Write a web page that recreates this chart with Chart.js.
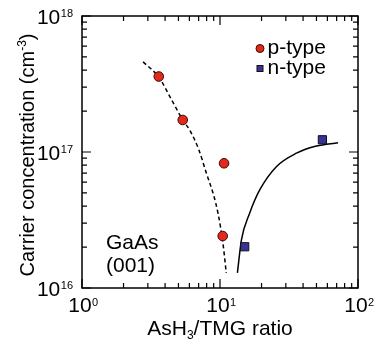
<!DOCTYPE html>
<html>
<head>
<meta charset="utf-8">
<script src="https://cdn.jsdelivr.net/npm/chart.js@4.4.1/dist/chart.umd.min.js"></script>
<style>
    html, body { margin: 0; padding: 0; background: #fff; }
    #chart { display: block; }
</style>
</head>
<body>
<canvas id="chart" width="378" height="343"></canvas>
<script>
// Measured points
const pTypeRatio = [3.6, 5.37, 10.7, 10.46];
const pTypeConc = [3.59e17, 1.72e17, 8.26e16, 2.41e16];
const nTypeRatio = [15.1, 55.2];
const nTypeConc = [2.01e16, 1.23e17];

// Guide curves
const pFitRatio = [2.77, 3.6, 4.5, 5.37, 6.03, 7.0, 7.97, 9.0, 9.67, 10.5, 11.1];
const pFitConc = [4.6e17, 3.55e17, 2.38e17, 1.72e17, 1.45e17, 1.05e17, 6.98e16, 4.8e16, 3.55e16, 2.14e16, 1.29e16];
const nFitRatio = [13.37, 14.3, 16.4, 19.4, 25.6, 35.8, 50, 71.6];
const nFitConc = [1.29e16, 2.26e16, 3.55e16, 5.26e16, 7.8e16, 9.8e16, 1.107e17, 1.17e17];

// Axis ticks
const xMajorTicks = [1, 10, 100];
const xTickExponents = ['0', '1', '2'];
const yMajorTicks = [1e16, 1e17, 1e18];
const yTickExponents = ['16', '17', '18'];
const minorSteps = [2, 3, 4, 5, 6, 7, 8, 9];

const FONT = '"Liberation Sans", Arial, Helvetica, sans-serif';
const RED = '#e2291c';
const BLUE = '#3a3199';

function toPoints(xs, ys) {
    return xs.map((x, i) => ({ x: x, y: ys[i] }));
}

// Frame, inward ticks on all four sides, labels and annotations
const framePlugin = {
    id: 'frame',
    afterDraw(chart) {
        const ctx = chart.ctx;
        const area = chart.chartArea;
        const xs = chart.scales.x;
        const ys = chart.scales.y;

        ctx.save();
        ctx.strokeStyle = '#000';
        ctx.lineWidth = 1.5;
        ctx.strokeRect(area.left, area.top, area.right - area.left, area.bottom - area.top);

        // ticks
        ctx.lineWidth = 1.2;
        ctx.beginPath();
        function xTick(v, len) {
            const px = xs.getPixelForValue(v);
            ctx.moveTo(px, area.bottom); ctx.lineTo(px, area.bottom - len);
            ctx.moveTo(px, area.top); ctx.lineTo(px, area.top + len);
        }
        function yTick(v, len) {
            const py = ys.getPixelForValue(v);
            ctx.moveTo(area.left, py); ctx.lineTo(area.left + len, py);
            ctx.moveTo(area.right, py); ctx.lineTo(area.right - len, py);
        }
        xMajorTicks.forEach((v, i) => {
            xTick(v, 9);
            if (i < xMajorTicks.length - 1) minorSteps.forEach(k => xTick(v * k, 5));
        });
        yMajorTicks.forEach((v, i) => {
            yTick(v, 9);
            if (i < yMajorTicks.length - 1) minorSteps.forEach(k => yTick(v * k, 5));
        });
        ctx.stroke();

        ctx.fillStyle = '#000';
        ctx.textBaseline = 'alphabetic';
        ctx.textAlign = 'left';

        // x tick labels 10^n
        xMajorTicks.forEach((v, i) => {
            const px = xs.getPixelForValue(v);
            ctx.font = '21px ' + FONT;
            const wBase = ctx.measureText('10').width;
            ctx.font = '11px ' + FONT;
            const wExp = ctx.measureText(xTickExponents[i]).width;
            const x0 = px - (wBase + wExp) / 2 + 1;
            ctx.font = '21px ' + FONT;
            ctx.fillText('10', x0, area.bottom + 23.5);
            ctx.font = '11px ' + FONT;
            ctx.fillText(xTickExponents[i], x0 + wBase + 0.5, area.bottom + 18);
        });

        // y tick labels 10^n
        yMajorTicks.forEach((v, i) => {
            const py = ys.getPixelForValue(v);
            ctx.font = '11px ' + FONT;
            const wExp = ctx.measureText(yTickExponents[i]).width;
            ctx.font = '21px ' + FONT;
            const wBase = ctx.measureText('10').width;
            const right = area.left - 9;
            ctx.fillText('10', right - wExp - wBase - 0.5, py + 8);
            ctx.font = '11px ' + FONT;
            ctx.fillText(yTickExponents[i], right - wExp, py + 0.5);
        });

        // x axis title: AsH3/TMG ratio
        ctx.font = '21px ' + FONT;
        const t1 = 'AsH', t3 = '/TMG ratio';
        const w1 = ctx.measureText(t1).width;
        const w3 = ctx.measureText(t3).width;
        ctx.font = '12px ' + FONT;
        const w2 = ctx.measureText('3').width;
        const cx = (area.left + area.right) / 2;
        let tx = cx - (w1 + w2 + w3) / 2;
        ctx.font = '21px ' + FONT;
        ctx.fillText(t1, tx, 335);
        ctx.font = '12px ' + FONT;
        ctx.fillText('3', tx + w1, 339);
        ctx.font = '21px ' + FONT;
        ctx.fillText(t3, tx + w1 + w2, 335);

        // y axis title: Carrier concentration (cm-3)
        ctx.save();
        ctx.translate(34, (area.top + area.bottom) / 2 + 3);
        ctx.rotate(-Math.PI / 2);
        ctx.font = '20px ' + FONT;
        const s1 = 'Carrier concentration (cm', s3 = ')';
        const v1 = ctx.measureText(s1).width;
        const v3 = ctx.measureText(s3).width;
        ctx.font = '12px ' + FONT;
        const v2 = ctx.measureText('-3').width;
        let sx = -(v1 + v2 + v3) / 2;
        ctx.font = '20px ' + FONT;
        ctx.fillText(s1, sx, 0);
        ctx.font = '12px ' + FONT;
        ctx.fillText('-3', sx + v1, -8);
        ctx.font = '20px ' + FONT;
        ctx.fillText(s3, sx + v1 + v2, 0);
        ctx.restore();

        // sample label
        ctx.font = '21px ' + FONT;
        ctx.fillText('GaAs', 106, 248.5);
        ctx.fillText('(001)', 106, 272);

        // legend
        ctx.lineWidth = 1;
        ctx.strokeStyle = '#3a0a00';
        ctx.fillStyle = RED;
        ctx.beginPath();
        ctx.arc(260, 48.5, 4, 0, Math.PI * 2);
        ctx.fill();
        ctx.stroke();
        ctx.strokeStyle = '#111';
        ctx.fillStyle = BLUE;
        ctx.fillRect(257, 65.5, 6, 6);
        ctx.strokeRect(257, 65.5, 6, 6);
        ctx.fillStyle = '#000';
        ctx.fillText('p-type', 267.5, 54);
        ctx.fillText('n-type', 267.5, 74);

        ctx.restore();
    }
};

const chart = new Chart(document.getElementById('chart').getContext('2d'), {
    type: 'scatter',
    data: {
        datasets: [
            {
                label: 'p-type',
                data: toPoints(pTypeRatio, pTypeConc),
                pointStyle: 'circle',
                pointRadius: 4.8,
                backgroundColor: RED,
                borderColor: '#3a0a00',
                borderWidth: 1,
                order: 0
            },
            {
                label: 'n-type',
                data: toPoints(nTypeRatio, nTypeConc),
                pointStyle: 'rect',
                pointRadius: 5.8,
                backgroundColor: BLUE,
                borderColor: '#111',
                borderWidth: 1,
                order: 0
            },
            {
                label: 'p fit',
                data: toPoints(pFitRatio, pFitConc),
                showLine: true,
                pointRadius: 0,
                borderColor: '#000',
                borderWidth: 1.5,
                borderDash: [4, 3],
                cubicInterpolationMode: 'monotone',
                order: 1
            },
            {
                label: 'n fit',
                data: toPoints(nFitRatio, nFitConc),
                showLine: true,
                pointRadius: 0,
                borderColor: '#000',
                borderWidth: 1.5,
                cubicInterpolationMode: 'monotone',
                order: 1
            }
        ]
    },
    options: {
        responsive: false,
        animation: false,
        devicePixelRatio: 1,
        layout: { padding: { left: 82, right: 20, top: 16, bottom: 55 } },
        plugins: {
            legend: { display: false },
            tooltip: { enabled: false }
        },
        scales: {
            x: { type: 'logarithmic', min: 1, max: 100, display: false },
            y: { type: 'logarithmic', min: 1e16, max: 1e18, display: false }
        }
    },
    plugins: [framePlugin]
});
</script>
</body>
</html>
